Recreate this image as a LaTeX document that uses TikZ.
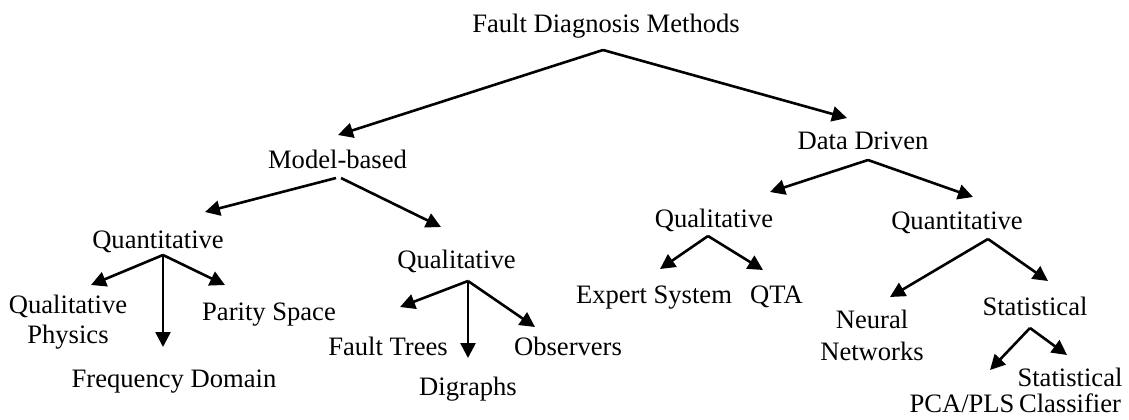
\documentclass[tikz,border=0pt]{standalone}
\usepackage{fontspec}
\setmainfont{Liberation Serif}
\usepackage{tikz}
\usetikzlibrary{calc,arrows.meta}

\begin{document}
\begin{tikzpicture}[x=0.5pt, y=-0.5pt, line width=1.3pt,
            font=\fontsize{13.3}{16}\selectfont,
            lbl/.style={
            anchor=base,
            inner sep=0pt,
            align=center},
            arr/.style={
            -{Triangle[length=7.5pt,width=7.5pt]},
            black}]

    \useasboundingbox (0,0) rectangle (1129,419);

    % levels 0 and 1
    \node[lbl] (root) at (606,32) {Fault Diagnosis Methods};
    \node[lbl] (mb) at (337.5,168) {Model-based};
    \node[lbl] (dd) at (863,149) {Data Driven};

    % level 2
    \node[lbl] (qnm) at (158,248) {Quantitative};
    \node[lbl] (qlm) at (456.5,268) {Qualitative};
    \node[lbl] (qld) at (714,227) {Qualitative};
    \node[lbl] (qnd) at (957,229) {Quantitative};

    % leaves (two-line ones sit on their last line)
    \node[lbl] (qp) at (68,343) {Qualitative\\[-1pt]Physics};
    \node[lbl] (fd) at (174,387) {Frequency Domain};
    \node[lbl] (ps) at (269,320) {Parity Space};
    \node[lbl] (ft) at (388,355) {Fault Trees};
    \node[lbl] (dg) at (468,395) {Digraphs};
    \node[lbl] (ob) at (568,355) {Observers};
    \node[lbl] (es) at (654,303) {Expert System};
    \node[lbl] (qta) at (776.5,303) {QTA};
    \node[lbl] (nn) at (872,360) {Neural\\Networks};
    \node[lbl] (st) at (1035,315) {Statistical};
    \node[lbl] (pca) at (962,412) {PCA/PLS};
    \node[lbl] (sc) at (1070,412) {Statistical\\[-3pt]Classifier};

    % parent/offset -- child/offset
    \foreach \p/\pa/\c/\ca in {root/{-3,18}/mb/{0.5,-33}, root/{-3,18}/dd/{-16,-31},
                               mb/{-1.5,10}/qnm/{47,-36}, mb/{3.5,10}/qlm/{-15.5,-41},
                               dd/{5,11}/qld/{56,-35}, dd/{5,11}/qnd/{16,-32},
                               qnm/{5,7}/qp/{23,-58}, qnm/{5,7}/fd/{-11,-40}, qnm/{5,7}/ps/{-44,-35},
                               qlm/{11.5,13}/ft/{12,-48}, qlm/{11.5,13}/dg/{0,-37}, qlm/{11.5,13}/ob/{-33,-28},
                               qld/{-6,9}/es/{6,-34}, qld/{-6,9}/qta/{-13.5,-33},
                               qnd/{31,10}/nn/{18,-63}, qnd/{31,10}/st/{13,-34},
                               st/{-5,13}/pca/{28,-42}, st/{-5,13}/sc/{-3,-57}}
    {
        \draw[arr] ($(\p.base)+(\pa)$) -- ($(\c.base)+(\ca)$);
    }
\end{tikzpicture}
\end{document}
